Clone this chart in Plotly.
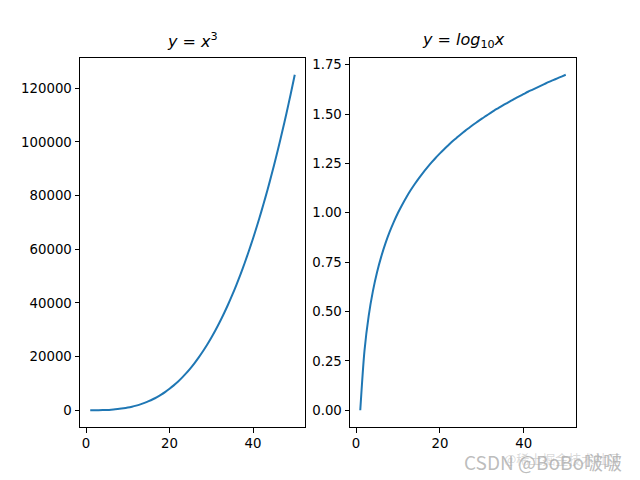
import plotly.graph_objects as go

x_vals = list(range(1, 51))
y_cube = [1, 8, 27, 64, 125, 216, 343, 512, 729, 1000, 1331, 1728, 2197, 2744, 3375,
          4096, 4913, 5832, 6859, 8000, 9261, 10648, 12167, 13824, 15625, 17576, 19683,
          21952, 24389, 27000, 29791, 32768, 35937, 39304, 42875, 46656, 50653, 54872,
          59319, 64000, 68921, 74088, 79507, 85184, 91125, 97336, 103823, 110592, 117649,
          125000]
y_log = [0.0, 0.301, 0.477, 0.602, 0.699, 0.778, 0.845, 0.903, 0.954, 1.0, 1.041, 1.079,
         1.114, 1.146, 1.176, 1.204, 1.230, 1.255, 1.279, 1.301, 1.322, 1.342, 1.362, 1.380,
         1.398, 1.415, 1.431, 1.447, 1.462, 1.477, 1.491, 1.505, 1.519, 1.531, 1.544, 1.556,
         1.568, 1.580, 1.591, 1.602, 1.613, 1.623, 1.633, 1.643, 1.653, 1.663, 1.672, 1.681,
         1.690, 1.699]
left_yticks = [0, 20000, 40000, 60000, 80000, 100000, 120000]
right_yticks = [0.0, 0.25, 0.5, 0.75, 1.0, 1.25, 1.5, 1.75]
right_yticklabels = ["0.00", "0.25", "0.50", "0.75", "1.00", "1.25", "1.50", "1.75"]
xticks = [0, 20, 40]

line_color = "#1f77b4"
font = dict(family="DejaVu Sans", size=13.3, color="black")

fig = go.Figure()
fig.add_trace(go.Scatter(x=x_vals, y=y_cube, mode="lines",
                         line=dict(color=line_color, width=2, shape="spline",
                                   smoothing=0.8, simplify=False),
                         xaxis="x", yaxis="y", showlegend=False))
fig.add_trace(go.Scatter(x=x_vals, y=y_log, mode="lines",
                         line=dict(color=line_color, width=2, shape="spline",
                                   smoothing=0.8, simplify=False),
                         xaxis="x2", yaxis="y2", showlegend=False))

axis_common = dict(showline=True, linecolor="black", linewidth=1, mirror=True,
                   ticks="outside", ticklen=4.5, tickwidth=1, tickcolor="black",
                   showgrid=False, zeroline=False, tickfont=font)

ydom = [1 - 427 / 480, 1 - 58 / 480]
fig.update_layout(
    width=640, height=480,
    margin=dict(l=0, r=0, t=0, b=0),
    paper_bgcolor="white", plot_bgcolor="white",
    font=font,
    xaxis=dict(domain=[80 / 640, 305 / 640], range=[-1.45, 52.45],
               tickvals=xticks, anchor="y", **axis_common),
    yaxis=dict(domain=ydom, range=[-6249, 131250], tickvals=left_yticks,
               tickformat="d", anchor="x", **axis_common),
    xaxis2=dict(domain=[350 / 640, 576 / 640], range=[-1.45, 52.45],
                tickvals=xticks, anchor="y2", **axis_common),
    yaxis2=dict(domain=ydom, range=[-0.085, 1.784], tickvals=right_yticks,
                ticktext=right_yticklabels, anchor="x2", **axis_common),
)

title_font = dict(family="DejaVu Sans", size=16, color="black")
fig.add_annotation(text="<i>y</i> = <i>x</i><sup>3</sup>", xref="paper", yref="paper",
                   x=(80 + 305) / 2 / 640, y=ydom[1], yshift=5, xanchor="center",
                   yanchor="bottom", showarrow=False, font=title_font)
fig.add_annotation(text="<i>y</i> = <i>log</i><sub>10</sub><i>x</i>", xref="paper",
                   yref="paper", x=(350 + 576) / 2 / 640, y=ydom[1], yshift=5,
                   xanchor="center", yanchor="bottom", showarrow=False, font=title_font)

# watermark
fig.add_annotation(text="CSDN @BoBo啵啵", xref="paper", yref="paper",
                   x=624 / 640, y=1 - 461 / 480, xanchor="right", yanchor="middle",
                   showarrow=False,
                   font=dict(family="Noto Sans CJK SC, DejaVu Sans", size=19,
                             color="rgba(160,160,160,0.7)"))
fig.add_annotation(text="@稀土掘金技术社区", xref="paper", yref="paper",
                   x=622 / 640, y=1 - 458 / 480, xanchor="right", yanchor="middle",
                   showarrow=False,
                   font=dict(family="Noto Sans CJK SC", size=13,
                             color="rgba(170,170,170,0.45)"))

fig.write_html("out.html", post_script="document.body.style.margin='0';",
               config={"displayModeBar": False})
